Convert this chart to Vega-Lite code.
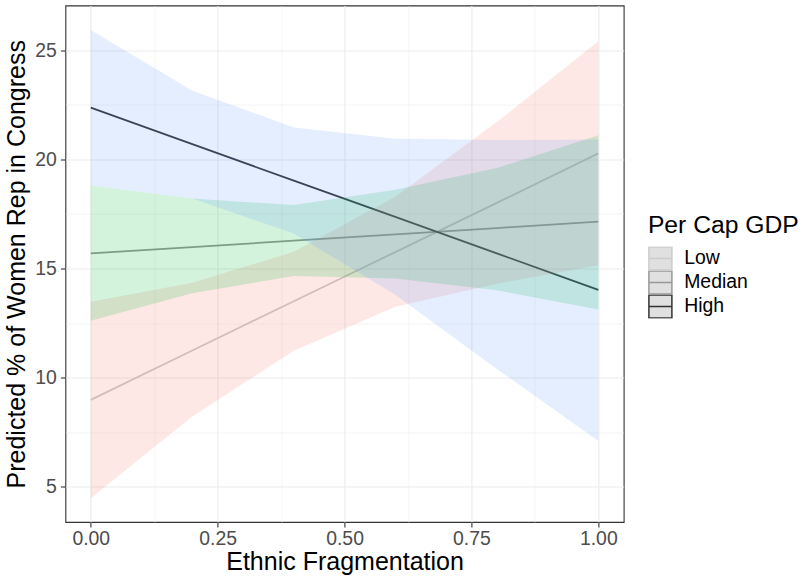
{
  "$schema": "https://vega.github.io/schema/vega-lite/v6.json",
  "width": 558.3,
  "height": 516.5,
  "autosize": "none",
  "padding": {"left": 65.4, "top": 5.5, "right": 180.3, "bottom": 54},
  "config": {
    "font": "Liberation Sans",
    "view": {"stroke": "#333333", "strokeWidth": 1.1}
  },
  "data": {
    "values": [
      {"group": "Low", "x": 0.0, "fit": 8.98, "lo": 4.48, "hi": 13.48},
      {"group": "Low", "x": 0.2, "fit": 11.24, "lo": 8.22, "hi": 14.35},
      {"group": "Low", "x": 0.4, "fit": 13.5, "lo": 11.23, "hi": 15.76},
      {"group": "Low", "x": 0.6, "fit": 15.75, "lo": 13.25, "hi": 18.28},
      {"group": "Low", "x": 0.8, "fit": 18.0, "lo": 14.3, "hi": 21.7},
      {"group": "Low", "x": 1.0, "fit": 20.27, "lo": 15.15, "hi": 25.4},
      {"group": "Median", "x": 0.0, "fit": 15.69, "lo": 12.6, "hi": 18.8},
      {"group": "Median", "x": 0.2, "fit": 15.98, "lo": 13.86, "hi": 18.2},
      {"group": "Median", "x": 0.4, "fit": 16.27, "lo": 14.65, "hi": 17.9},
      {"group": "Median", "x": 0.6, "fit": 16.56, "lo": 14.54, "hi": 18.6},
      {"group": "Median", "x": 0.8, "fit": 16.85, "lo": 14.0, "hi": 19.6},
      {"group": "Median", "x": 1.0, "fit": 17.14, "lo": 13.12, "hi": 21.1},
      {"group": "High", "x": 0.0, "fit": 22.36, "lo": 18.8, "hi": 25.92},
      {"group": "High", "x": 0.2, "fit": 20.69, "lo": 18.2, "hi": 23.14},
      {"group": "High", "x": 0.4, "fit": 19.02, "lo": 16.6, "hi": 21.45},
      {"group": "High", "x": 0.6, "fit": 17.36, "lo": 13.8, "hi": 20.94},
      {"group": "High", "x": 0.8, "fit": 15.69, "lo": 10.4, "hi": 20.88},
      {"group": "High", "x": 1.0, "fit": 14.02, "lo": 7.1, "hi": 20.9}
    ]
  },
  "encoding": {
    "x": {
      "field": "x",
      "type": "quantitative",
      "scale": {"domain": [-0.05, 1.05], "nice": false, "zero": false},
      "axis": {
        "title": "Ethnic Fragmentation",
        "values": [0, 0.125, 0.25, 0.375, 0.5, 0.625, 0.75, 0.875, 1],
        "labelExpr": "(datum.value * 4) % 1 == 0 ? format(datum.value, '.2f') : ''",
        "domain": false,
        "grid": true,
        "gridColor": "#EBEBEB",
        "gridWidth": {"condition": {"test": "(datum.value * 4) % 1 == 0", "value": 1.1}, "value": 0.55},
        "tickColor": "#333333",
        "tickWidth": 1.1,
        "tickSize": 5,
        "tickOpacity": {"condition": {"test": "(datum.value * 4) % 1 == 0", "value": 1}, "value": 0},
        "labelFontSize": 19.4,
        "labelColor": "#4D4D4D",
        "labelPadding": 2,
        "labelFlush": false,
        "labelOverlap": false,
        "titleFontSize": 25,
        "titleFontWeight": "normal",
        "titleColor": "#000000",
        "titlePadding": 2
      }
    }
  },
  "layer": [
    {
      "mark": {"type": "line", "strokeWidth": 1.8},
      "encoding": {
        "y": {
          "field": "fit",
          "type": "quantitative",
          "scale": {"domain": [3.39, 27.04], "nice": false, "zero": false},
          "axis": {
            "title": "Predicted % of Women Rep in Congress",
            "values": [5, 7.5, 10, 12.5, 15, 17.5, 20, 22.5, 25],
            "labelExpr": "datum.value % 5 == 0 ? format(datum.value, 'd') : ''",
            "domain": false,
            "grid": true,
            "gridColor": "#EBEBEB",
            "gridWidth": {"condition": {"test": "datum.value % 5 == 0", "value": 1.1}, "value": 0.55},
            "tickColor": "#333333",
            "tickWidth": 1.1,
            "tickSize": 5,
            "tickOpacity": {"condition": {"test": "datum.value % 5 == 0", "value": 1}, "value": 0},
            "labelFontSize": 19.4,
            "labelColor": "#4D4D4D",
            "labelPadding": 4,
            "labelOverlap": false,
            "titleFontSize": 25,
            "titleFontWeight": "normal",
            "titleColor": "#000000",
            "titlePadding": 5
          }
        },
        "color": {
          "field": "group",
          "type": "nominal",
          "scale": {"domain": ["Low", "Median", "High"], "range": ["#CCCCCC", "#989898", "#333333"]},
          "legend": {
            "title": "Per Cap GDP",
            "orient": "none",
            "legendX": 582.5,
            "legendY": 207.2,
            "padding": 0,
            "titleFontSize": 24.7,
            "titleFontWeight": "normal",
            "titleColor": "#000000",
            "titlePadding": 9,
            "labelFontSize": 19.4,
            "labelColor": "#000000",
            "labelOffset": 11.3,
            "rowPadding": 0,
            "clipHeight": 24,
            "symbolType": "M-1,-1H1V1H-1Z M-1,0H1",
            "symbolSize": 529,
            "symbolStrokeWidth": 1.5,
            "symbolFillColor": "#E0E0E0",
            "encode": {
              "symbols": {"update": {"fill": {"value": "#E0E0E0"}, "fillOpacity": {"value": 1}, "opacity": {"value": 1}}}
            }
          }
        }
      }
    },
    {
      "mark": {"type": "area", "opacity": 0.17},
      "encoding": {
        "y": {"field": "lo", "type": "quantitative"},
        "y2": {"field": "hi"},
        "color": {
          "field": "group",
          "type": "nominal",
          "scale": {"domain": ["Low", "Median", "High"], "range": ["#F8766D", "#00BA38", "#619CFF"]},
          "legend": null
        }
      }
    }
  ],
  "resolve": {"scale": {"color": "independent"}, "legend": {"color": "independent"}}
}
